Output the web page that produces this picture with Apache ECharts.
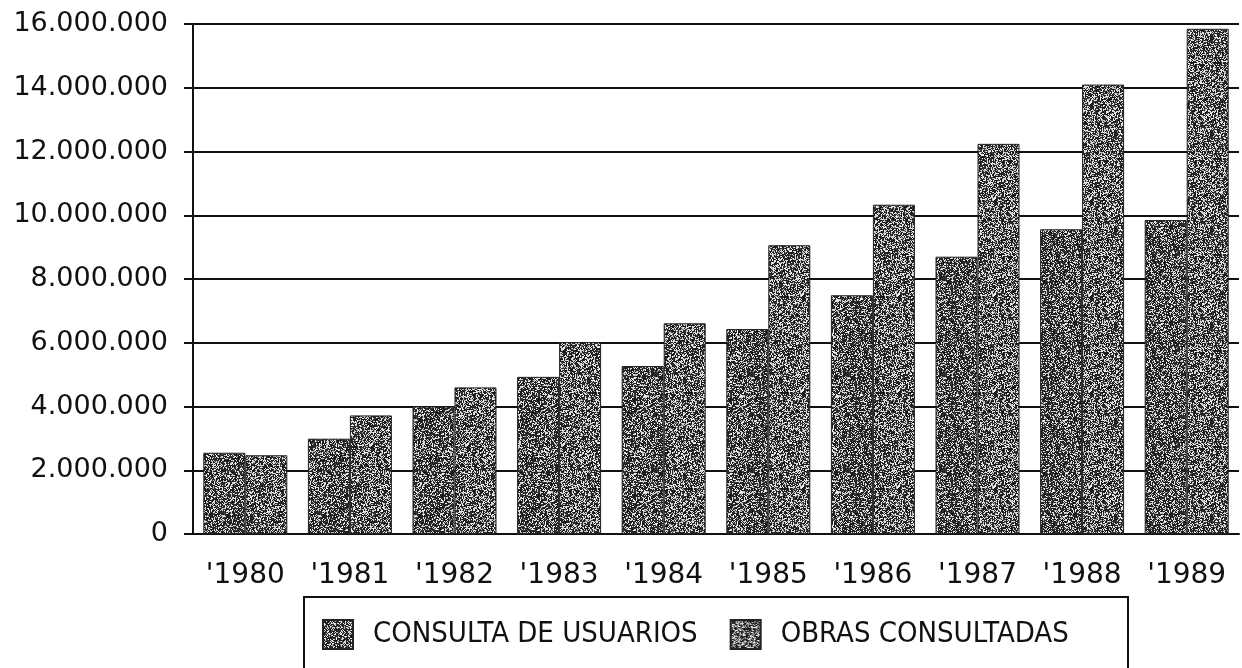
<!DOCTYPE html>
<html>
<head>
<meta charset="utf-8">
<title>Consulta de usuarios / obras consultadas 1980-1989</title>
<script src="https://cdn.jsdelivr.net/npm/echarts@6/dist/echarts.min.js"></script>
<style>
  html, body { margin: 0; padding: 0; background: #fff; }
  #chart { width: 1242px; height: 668px; }
</style>
</head>
<body>
<div id="chart"></div>
<script>
// datos
var years = ["'1980", "'1981", "'1982", "'1983", "'1984", "'1985", "'1986", "'1987", "'1988", "'1989"];
var consultaUsuarios = [2550000, 2990000, 4000000, 4930000, 5270000, 6430000, 7490000, 8700000, 9560000, 9850000];
var obrasConsultadas = [2470000, 3720000, 4600000, 6020000, 6610000, 9060000, 10330000, 12240000, 14100000, 15850000];
var seriesNames = ['CONSULTA DE USUARIOS', 'OBRAS CONSULTADAS'];

// textura granulada tipo fotocopia (ruido determinista, solo estilo)
function makeTexture(dark, seed) {
  var size = 96;
  var c = document.createElement('canvas');
  c.width = size; c.height = size;
  var ctx = c.getContext('2d');
  var img = ctx.createImageData(size, size);
  var s = seed;
  function rnd() {
    s = (s * 1103515245 + 12345) & 0x7fffffff;
    return s / 0x7fffffff;
  }
  for (var i = 0; i < size * size; i++) {
    var v = rnd() < dark ? 15 + rnd() * 45 : 180 + rnd() * 75;
    img.data[i * 4] = v;
    img.data[i * 4 + 1] = v;
    img.data[i * 4 + 2] = v;
    img.data[i * 4 + 3] = 255;
  }
  ctx.putImageData(img, 0, 0);
  return { image: c, repeat: 'repeat' };
}

function fmtMiles(v) {
  return String(v).replace(/\B(?=(\d{3})+(?!\d))/g, '.');
}

var texA = makeTexture(0.66, 12345);
var texB = makeTexture(0.6, 67890);

var myChart = echarts.init(document.getElementById('chart'));
var option = {
  animation: false,
  backgroundColor: '#fff',
  grid: { left: 193, right: 3, top: 24, bottom: 134 },
  legend: {
    data: seriesNames,
    left: 317,
    top: 614,
    icon: 'rect',
    itemWidth: 30,
    itemHeight: 29,
    itemGap: 32,
    textStyle: {
      fontFamily: 'Liberation Sans Narrow, DejaVu Sans Condensed, sans-serif',
      fontSize: 29,
      color: '#111',
      padding: [0, 0, 0, 15]
    }
  },
  graphic: [
    {
      type: 'rect',
      shape: { x: 304, y: 597, width: 824, height: 100 },
      style: { fill: 'none', stroke: '#111', lineWidth: 2 },
      z: 0
    }
  ],
  xAxis: {
    type: 'category',
    data: years,
    axisLine: { lineStyle: { color: '#111', width: 2 } },
    axisTick: { length: 9, lineStyle: { color: '#111', width: 2 } },
    axisLabel: {
      interval: 0,
      margin: 28,
      fontFamily: 'DejaVu Sans, sans-serif',
      fontSize: 28,
      color: '#111'
    }
  },
  yAxis: {
    type: 'value',
    min: 0,
    max: 16000000,
    interval: 2000000,
    axisLine: { show: true, lineStyle: { color: '#111', width: 2 } },
    axisTick: { show: true, length: 9, lineStyle: { color: '#111', width: 2 } },
    splitLine: { lineStyle: { color: '#111', width: 2 } },
    axisLabel: {
      margin: 25,
      fontFamily: 'DejaVu Sans, sans-serif',
      fontSize: 27,
      color: '#111',
      formatter: fmtMiles
    }
  },
  series: [
    {
      name: seriesNames[0],
      type: 'bar',
      data: consultaUsuarios,
      barWidth: 42,
      barGap: '0%',
      itemStyle: { color: texA, borderColor: '#222', borderWidth: 1 }
    },
    {
      name: seriesNames[1],
      type: 'bar',
      data: obrasConsultadas,
      barWidth: 42,
      barGap: '0%',
      itemStyle: { color: texB, borderColor: '#222', borderWidth: 1 }
    }
  ]
};
myChart.setOption(option);
window.addEventListener('resize', function () {
  myChart.resize();
});
</script>
</body>
</html>
